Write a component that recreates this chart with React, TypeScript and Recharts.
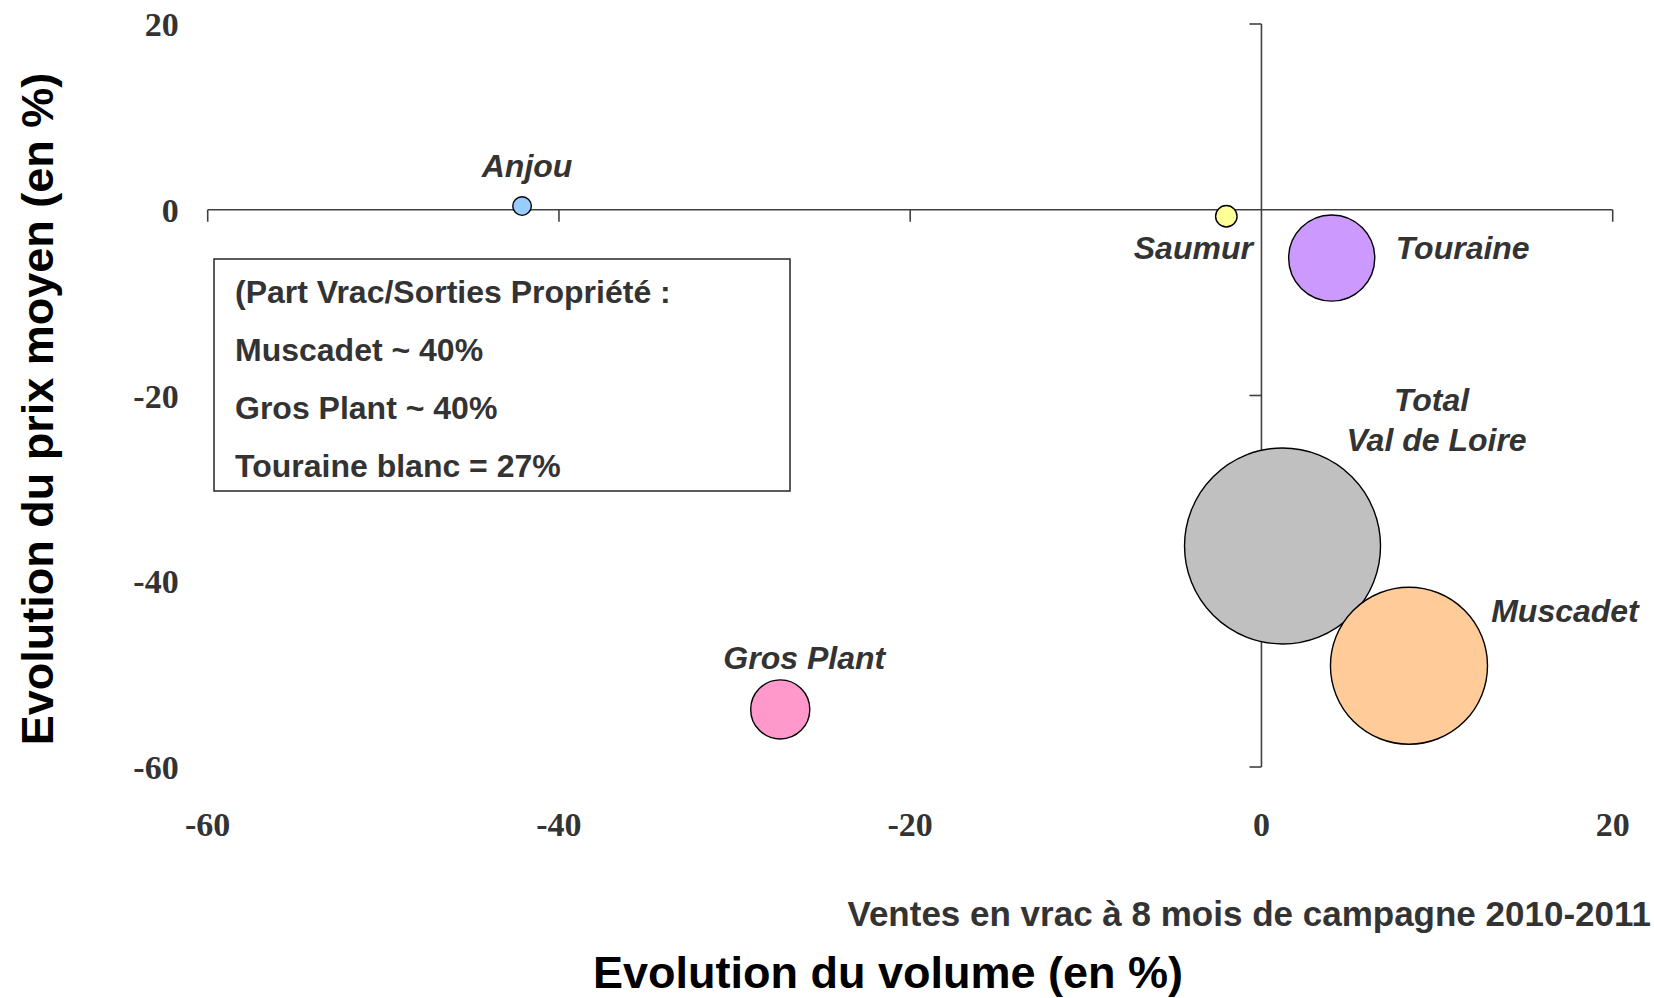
import React from 'react';
import { ScatterChart, Scatter, XAxis, YAxis, ZAxis, ReferenceLine } from 'recharts';

// ---- data ----
const regions = ['Anjou', 'Saumur', 'Touraine', 'Total Val de Loire', 'Muscadet', 'Gros Plant'];
const volumeChange = [-42.1, -2.0, 4.0, 1.2, 8.4, -27.4];
const priceChange = [0.4, -0.7, -5.2, -36.2, -49.1, -53.8];
const bubbleSize = [0.9, 1.2, 19.3, 100, 64.2, 9.1];
const labelLines = [['Anjou'], ['Saumur'], ['Touraine'], ['Total', 'Val de Loire'], ['Muscadet'], ['Gros Plant']];
const xTicks = [-60, -40, -20, 0, 20];
const yTicks = [-60, -40, -20, 0, 20];
const xAxisTickMarks = [-60, -40, -20, 20];
const yAxisTickMarks = [20, -20, -40, -60];
const noteLines = ['(Part Vrac/Sorties Propriété :', 'Muscadet ~ 40%', 'Gros Plant ~ 40%', 'Touraine blanc = 27%'];
const xTitle = 'Evolution du volume (en %)';
const yTitle = 'Evolution du prix moyen (en %)';
const subTitle = 'Ventes en vrac à 8 mois de campagne 2010-2011';

// ---- styles ----
const bubbleColors = ['#99CCFF', '#FFFF99', '#CC99FF', '#C0C0C0', '#FFCC99', '#FF99CC'];
const labelOffsets = [[[5, -29]], [[-33, 43]], [[131, 1]], [[149, -135], [154, -95]], [[156, -44]], [[24, -40]]];
const W = 1654;
const H = 998;
const plotTop = 24;
const plotBottom = 767;
const plotLeft = 207.7;
const plotRight = 1612.7;
const SANS = '"Liberation Sans", Arial, Helvetica, sans-serif';
const SERIF = '"Liberation Serif", "Times New Roman", serif';
const AXIS_COLOR = '#404040';
const TEXT_COLOR = '#333333';
const tickPx = 12;
const tickYUnits = (tickPx * 80) / (plotBottom - plotTop);
const tickXUnits = (tickPx * 80) / (plotRight - plotLeft);

const data = regions.map((name, i) => ({ name, x: volumeChange[i], y: priceChange[i], z: bubbleSize[i] }));

const XTick = (props: any) => {
  const { x, y, payload } = props;
  return (
    <text x={x} y={y + 69} textAnchor="middle" fontFamily={SERIF} fontWeight="bold" fontSize={34} fill={TEXT_COLOR}>
      {payload.value}
    </text>
  );
};

const YTick = (props: any) => {
  const { x, y, payload } = props;
  return (
    <text x={x - 29} y={y + 12} textAnchor="end" fontFamily={SERIF} fontWeight="bold" fontSize={34} fill={TEXT_COLOR}>
      {payload.value}
    </text>
  );
};

const BubbleShape = (props: any) => {
  const { cx, cy, payload } = props;
  const i = regions.indexOf(payload.name);
  const r = props.width ? props.width / 2 : Math.sqrt((props.size || 0) / Math.PI);
  return (
    <g>
      <circle cx={cx} cy={cy} r={r} fill={bubbleColors[i]} stroke="#000" strokeWidth={1.4} />
      {labelLines[i].map((t, k) => (
        <text
          key={k}
          x={cx + labelOffsets[i][k][0]}
          y={cy + labelOffsets[i][k][1]}
          textAnchor="middle"
          fontFamily={SANS}
          fontWeight="bold"
          fontStyle="italic"
          fontSize={32}
          fill={TEXT_COLOR}
        >
          {t}
        </text>
      ))}
    </g>
  );
};

export default function App() {
  return (
    <div style={{ position: 'absolute', left: 0, top: 0, width: W, height: H, background: '#fff' }}>
      <ScatterChart
        width={W}
        height={H}
        margin={{ top: plotTop, right: W - plotRight, bottom: H - plotBottom - 60, left: plotLeft - 60 }}
      >
        <XAxis
          dataKey="x"
          type="number"
          domain={[-60, 20]}
          ticks={xTicks}
          interval={0}
          axisLine={false}
          tickLine={false}
          tickSize={0}
          tickMargin={0}
          height={60}
          tick={<XTick />}
        />
        <YAxis
          dataKey="y"
          type="number"
          domain={[-60, 20]}
          ticks={yTicks}
          interval={0}
          axisLine={false}
          tickLine={false}
          tickSize={0}
          tickMargin={0}
          width={60}
          tick={<YTick />}
        />
        <ZAxis dataKey="z" type="number" domain={[0, 100]} range={[0, Math.PI * 98 * 98]} />
        <ReferenceLine y={0} stroke={AXIS_COLOR} strokeWidth={1.6} />
        <ReferenceLine x={0} stroke={AXIS_COLOR} strokeWidth={1.6} />
        {xAxisTickMarks.map((v) => (
          <ReferenceLine
            key={'xt' + v}
            segment={[{ x: v, y: 0 }, { x: v, y: -tickYUnits }]}
            stroke={AXIS_COLOR}
            strokeWidth={1.6}
          />
        ))}
        {yAxisTickMarks.map((v) => (
          <ReferenceLine
            key={'yt' + v}
            segment={[{ x: 0, y: v }, { x: -tickXUnits, y: v }]}
            stroke={AXIS_COLOR}
            strokeWidth={1.6}
          />
        ))}
        <Scatter data={data} shape={<BubbleShape />} isAnimationActive={false} />
      </ScatterChart>
      <svg
        width={W}
        height={H}
        style={{ position: 'absolute', left: 0, top: 0, pointerEvents: 'none' }}
      >
        <rect x={214} y={259} width={576} height={232} fill="none" stroke={TEXT_COLOR} strokeWidth={1.6} />
        {noteLines.map((t, k) => (
          <text key={k} x={235} y={302.7 + k * 58} fontFamily={SANS} fontWeight="bold" fontSize={32} fill={TEXT_COLOR}>
            {t}
          </text>
        ))}
        <text x={1651} y={926} textAnchor="end" fontFamily={SANS} fontWeight="bold" fontSize={35} fill={TEXT_COLOR}>
          {subTitle}
        </text>
        <text x={888} y={988} textAnchor="middle" fontFamily={SANS} fontWeight="bold" fontSize={45} fill="#000">
          {xTitle}
        </text>
        <text
          transform="translate(52.5, 409) rotate(-90)"
          x={0}
          y={0}
          textAnchor="middle"
          fontFamily={SANS}
          fontWeight="bold"
          fontSize={45}
          fill="#000"
        >
          {yTitle}
        </text>
      </svg>
    </div>
  );
}
